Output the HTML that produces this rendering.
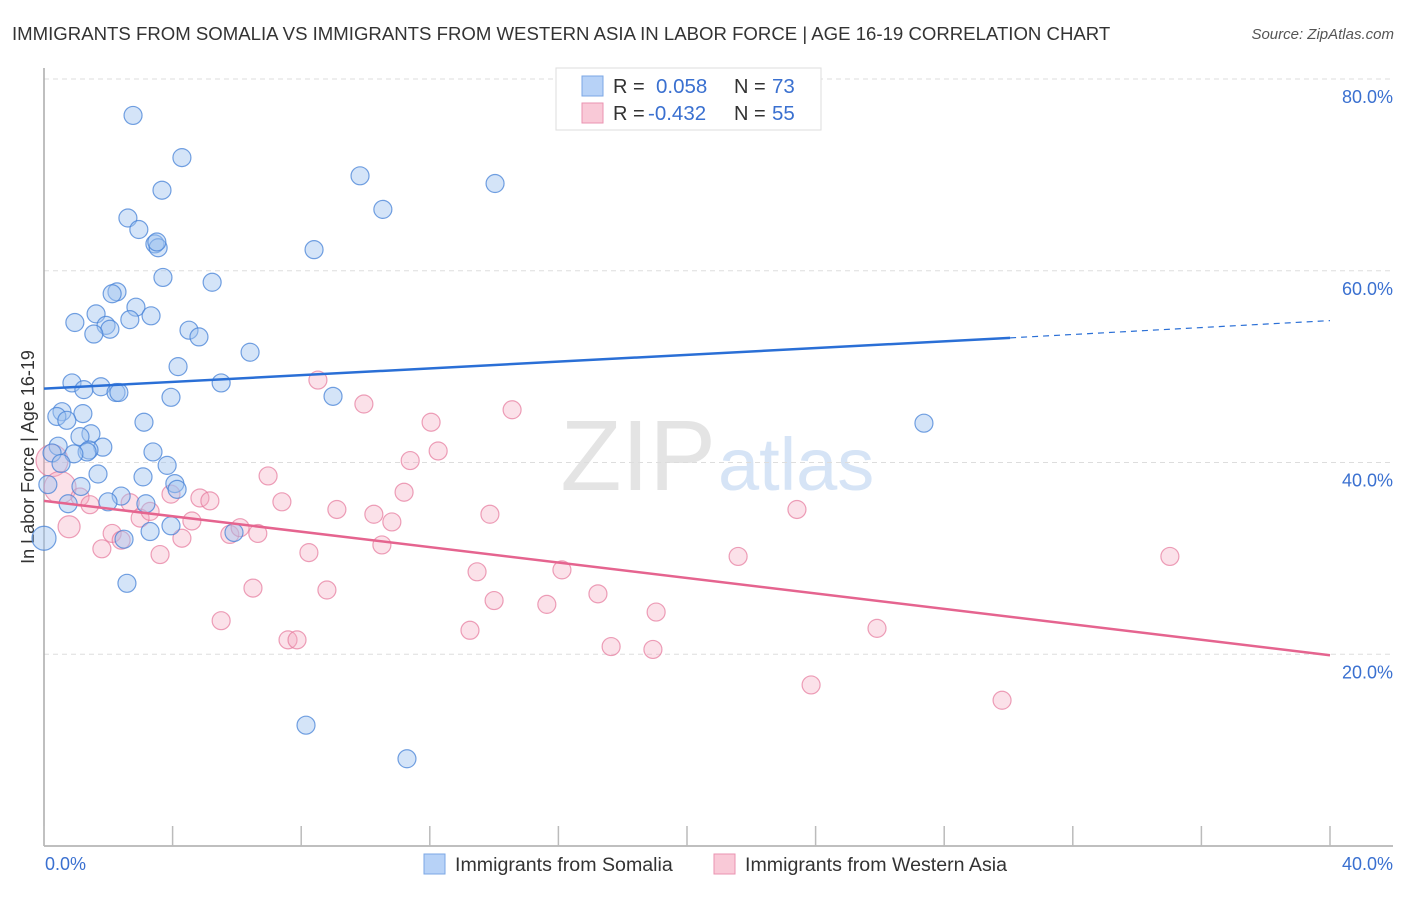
<!DOCTYPE html>
<html><head><meta charset="utf-8"><style>
body{margin:0;background:#fff;font-family:"Liberation Sans",sans-serif;}
svg text{font-family:"Liberation Sans",sans-serif;}
</style></head><body>
<svg id="chart" width="1406" height="892" xmlns="http://www.w3.org/2000/svg">
<text x="12" y="40" font-size="18.6" fill="#333">IMMIGRANTS FROM SOMALIA VS IMMIGRANTS FROM WESTERN ASIA IN LABOR FORCE | AGE 16-19 CORRELATION CHART</text>
<text x="1394" y="39" font-size="15" fill="#555" font-style="italic" text-anchor="end">Source: ZipAtlas.com</text>
<text x="716" y="490" font-size="100" fill="#e4e4e4" text-anchor="end" font-family="Liberation Serif">ZIP</text>
<text x="718" y="490" font-size="74" fill="#d6e4f6">atlas</text>
<g id="grid"></g>
<line x1="44" y1="68" x2="44" y2="846" stroke="#aaa" stroke-width="1.5"/>
<line x1="44" y1="846" x2="1393" y2="846" stroke="#aaa" stroke-width="1.5"/>
<g id="xticks"></g>
<text transform="translate(34,457) rotate(-90)" font-size="18" fill="#333" text-anchor="middle">In Labor Force | Age 16-19</text>
<text x="45" y="870" font-size="18" fill="#3a70d0">0.0%</text>
<text x="1393" y="870" font-size="18" fill="#3a70d0" text-anchor="end">40.0%</text>
<g id="points"></g>
<g id="trends"></g>
<g>
<rect x="556" y="68" width="265" height="62" fill="#fff" stroke="#ddd"/>
<rect x="582" y="76" width="21" height="20" fill="#b7d2f7" stroke="#7ba7e4"/>
<rect x="582" y="103" width="21" height="20" fill="#f9c9d7" stroke="#ea93b0"/>
<text x="613" y="93" font-size="20" fill="#333">R = </text><text x="656" y="93" font-size="20.5" fill="#3a70d0">0.058</text>
<text x="734" y="93" font-size="20" fill="#333">N = </text><text x="772" y="93" font-size="20.5" fill="#3a70d0">73</text>
<text x="613" y="120" font-size="20" fill="#333">R = </text><text x="648" y="120" font-size="20.5" fill="#3a70d0">-0.432</text>
<text x="734" y="120" font-size="20" fill="#333">N = </text><text x="772" y="120" font-size="20.5" fill="#3a70d0">55</text>
</g>
<g><rect x="424" y="854" width="21" height="20" fill="#b7d2f7" stroke="#7ba7e4"/><text x="455" y="871" font-size="19.6" fill="#333">Immigrants from Somalia</text></g>
<g><rect x="714" y="854" width="21" height="20" fill="#f9c9d7" stroke="#ea93b0"/><text x="745" y="871" font-size="19.6" fill="#333">Immigrants from Western Asia</text></g>
</svg>
<script>
const yTicks=[20,40,60,80];
const xTickVals=[0,4,8,12,16,20,24,28,32,36,40];
const blueX=[2.77,4.29,3.67,9.83,14.03,10.54,2.61,2.95,3.45,3.55,3.51,8.40,3.70,5.23,2.27,2.12,2.86,1.62,3.33,2.67,0.96,1.93,2.05,1.55,4.51,4.82,6.41,4.17,0.87,5.51,1.77,1.24,2.24,2.33,3.95,8.99,0.56,0.40,1.21,0.71,3.11,1.46,1.12,27.37,0.44,1.83,1.40,1.34,3.39,0.93,0.25,0.53,3.83,1.68,3.08,1.15,4.07,4.14,0.12,2.40,1.99,0.75,3.17,5.91,3.95,3.30,2.49,0.0,2.58,8.15,11.29];
const blueY=[76.2,71.8,68.4,69.9,69.1,66.4,65.5,64.3,62.8,62.4,63.0,62.2,59.3,58.8,57.8,57.6,56.2,55.5,55.3,54.9,54.6,54.3,53.9,53.4,53.8,53.1,51.5,50.0,48.3,48.3,47.9,47.6,47.3,47.3,46.8,46.9,45.3,44.8,45.1,44.4,44.2,43.0,42.7,44.1,41.7,41.6,41.3,41.1,41.1,40.9,41.0,39.9,39.7,38.8,38.5,37.5,37.8,37.2,37.7,36.5,35.9,35.7,35.7,32.7,33.4,32.8,32.0,32.1,27.4,12.6,9.1];
const pinkX=[0.25,0.50,0.78,1.12,1.43,1.80,2.12,2.40,2.68,2.99,3.30,3.61,3.95,4.29,4.60,4.85,5.16,5.51,5.78,6.10,6.50,6.65,6.97,7.40,7.59,7.87,8.24,8.52,8.80,9.11,9.95,10.26,10.51,10.82,11.20,11.39,12.04,12.26,13.25,13.47,13.87,14.0,14.56,15.64,16.11,17.23,17.64,18.94,19.04,21.59,23.42,23.86,25.91,29.80,35.02];
const pinkY=[40.2,37.4,33.3,36.4,35.6,31.0,32.6,31.9,35.8,34.2,34.9,30.4,36.7,32.1,33.9,36.3,36.0,23.5,32.5,33.2,26.9,32.6,38.6,35.9,21.5,21.5,30.6,48.6,26.7,35.1,46.1,34.6,31.4,33.8,36.9,40.2,44.2,41.2,22.5,28.6,34.6,25.6,45.5,25.2,28.8,26.3,20.8,20.5,24.4,30.2,35.1,16.8,22.7,15.2,30.2];
const trendBlue=[47.7,53.0,54.8];
const trendPink=[36.0,19.9];
const X0=44,X1=1330,Y0=846,Y80=79;
function sx(v){return X0+(X1-X0)*v/40;}
function sy(v){return Y0-(Y0-Y80)*v/80;}
const NS="http://www.w3.org/2000/svg";
function mk(tag,attrs,parent){const e=document.createElementNS(NS,tag);for(const k in attrs)e.setAttribute(k,attrs[k]);parent.appendChild(e);return e;}
const grid=document.getElementById('grid');
yTicks.forEach(t=>{
 const l=mk('line',{x1:44,x2:1393,y1:sy(t),y2:sy(t),stroke:'#ddd','stroke-dasharray':'5,4'},grid);
 
 
 const tx=mk('text',{x:1393,y:sy(t)+24,'font-size':18,fill:'#3a70d0','text-anchor':'end'},grid);
 tx.textContent=t.toFixed(1)+'%';
 
 
});
const xt=document.getElementById('xticks');
xTickVals.forEach(t=>{
 const l=mk('line',{x1:sx(t),x2:sx(t),y1:826,y2:846,stroke:'#bbb','stroke-width':1.5},xt);
 
 
});
const pts=document.getElementById('points');
pinkX.forEach((v,i)=>{
 const r=(i<2)?16:(i<3?11:9);
 const c=mk('circle',{cx:sx(v),cy:sy(pinkY[i]),r:r,fill:'rgba(244,168,192,0.35)',stroke:'rgba(230,120,155,0.7)','stroke-width':1.2},pts);
 
 
});
blueX.forEach((v,i)=>{
 const r=(i==67)?12:9;
 const c=mk('circle',{cx:sx(v),cy:sy(blueY[i]),r:r,fill:'rgba(160,196,240,0.45)',stroke:'rgba(70,130,215,0.75)','stroke-width':1.2},pts);
 
 
});
const tr=document.getElementById('trends');
let l1=mk('line',{x1:sx(0),y1:sy(trendBlue[0]),x2:sx(30.05),y2:sy(trendBlue[1]),stroke:'#2a6fd6','stroke-width':2.5},tr);


let l2=mk('line',{x1:sx(30.05),y1:sy(trendBlue[1]),x2:sx(40),y2:sy(trendBlue[2]),stroke:'#2a6fd6','stroke-width':1.2,'stroke-dasharray':'6,5'},tr);


let l3=mk('line',{x1:sx(0),y1:sy(trendPink[0]),x2:sx(40),y2:sy(trendPink[1]),stroke:'#e5648f','stroke-width':2.5},tr);


</script>
</body></html>
